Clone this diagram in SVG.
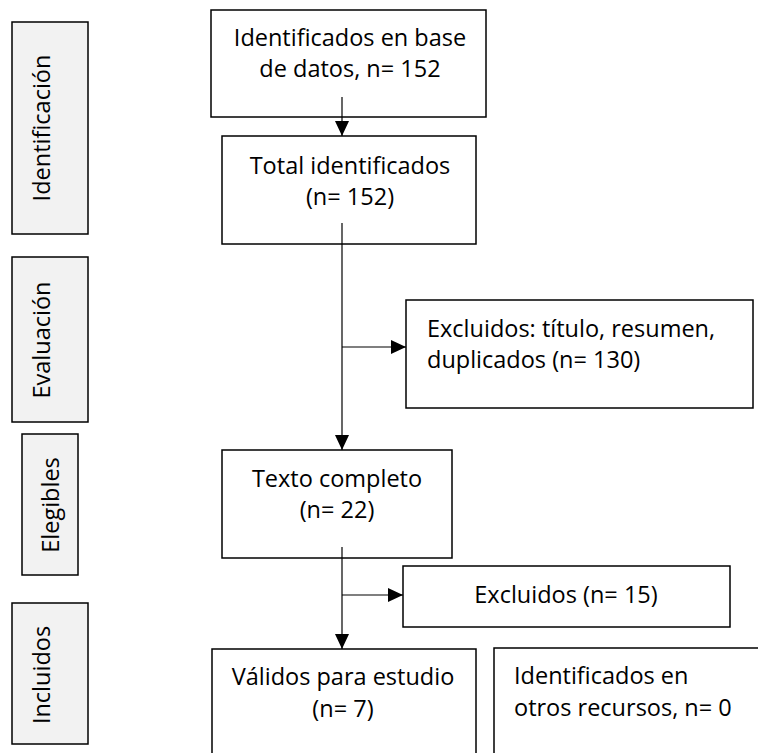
<svg xmlns="http://www.w3.org/2000/svg" width="758" height="753" viewBox="0 0 758 753">
<style>
.box{fill:#ffffff;stroke:#000;stroke-width:1.5}
.side{fill:#f2f2f2;stroke:#000;stroke-width:1.5}
text{font-family:"Open Sans","Noto Sans",sans-serif;font-size:23.5px;fill:#000}
.c{text-anchor:middle}
.conn{stroke:#000;stroke-width:1.2;fill:none}
</style>
<defs>
<marker id="arr" markerUnits="userSpaceOnUse" markerWidth="15" markerHeight="14" refX="15" refY="7" orient="auto" viewBox="0 0 15 14">
<path d="M0,0 L15,7 L0,14 z" fill="#000"/>
</marker>
</defs>
<rect width="758" height="753" fill="#fff"/>
<g id="stage-identificacion">
<rect class="side" x="12" y="22" width="76" height="212"/>
<text class="c" transform="translate(50,128) rotate(-90)">Identificación</text>
</g>
<g id="stage-evaluacion">
<rect class="side" x="12" y="257" width="76" height="165"/>
<text class="c" transform="translate(50,340) rotate(-90)">Evaluación</text>
</g>
<g id="stage-elegibles">
<rect class="side" x="22" y="434" width="56" height="141"/>
<text class="c" transform="translate(59,505) rotate(-90)">Elegibles</text>
</g>
<g id="stage-incluidos">
<rect class="side" x="12" y="603" width="76" height="141"/>
<text class="c" transform="translate(50,675) rotate(-90)">Incluidos</text>
</g>
<g id="n-identificados">
<rect class="box" x="211" y="10" width="275" height="107"/>
<text class="c" x="350" y="46">Identificados en base</text>
<text class="c" x="350" y="77">de datos, n= 152</text>
</g>
<g id="n-total">
<rect class="box" x="222" y="136" width="254" height="108"/>
<text class="c" x="350" y="174">Total identificados</text>
<text class="c" x="350" y="205">(n= 152)</text>
</g>
<g id="n-excluidos1">
<rect class="box" x="406" y="300" width="347" height="108"/>
<text x="427" y="337">Excluidos: título, resumen,</text>
<text x="427" y="368">duplicados (n= 130)</text>
</g>
<g id="n-texto">
<rect class="box" x="222" y="450" width="230" height="108"/>
<text class="c" x="337" y="487">Texto completo</text>
<text class="c" x="337" y="518">(n= 22)</text>
</g>
<g id="n-excluidos2">
<rect class="box" x="403" y="566" width="327" height="61"/>
<text class="c" x="566" y="603">Excluidos (n= 15)</text>
</g>
<g id="n-validos">
<rect class="box" x="212" y="649" width="264" height="140"/>
<text class="c" x="343" y="685">Válidos para estudio</text>
<text class="c" x="343" y="717">(n= 7)</text>
</g>
<g id="n-otros">
<rect class="box" x="494" y="648" width="300" height="140"/>
<text x="514" y="684">Identificados en</text>
<text x="514" y="716">otros recursos, n= 0</text>
</g>
<g id="connectors">
<line class="conn" x1="342" y1="97" x2="342" y2="136" marker-end="url(#arr)"/>
<line class="conn" x1="342" y1="223" x2="342" y2="450" marker-end="url(#arr)"/>
<line class="conn" x1="342" y1="347" x2="406" y2="347" marker-end="url(#arr)"/>
<line class="conn" x1="342" y1="547" x2="342" y2="649" marker-end="url(#arr)"/>
<line class="conn" x1="342" y1="595" x2="403" y2="595" marker-end="url(#arr)"/>
</g>
</svg>
